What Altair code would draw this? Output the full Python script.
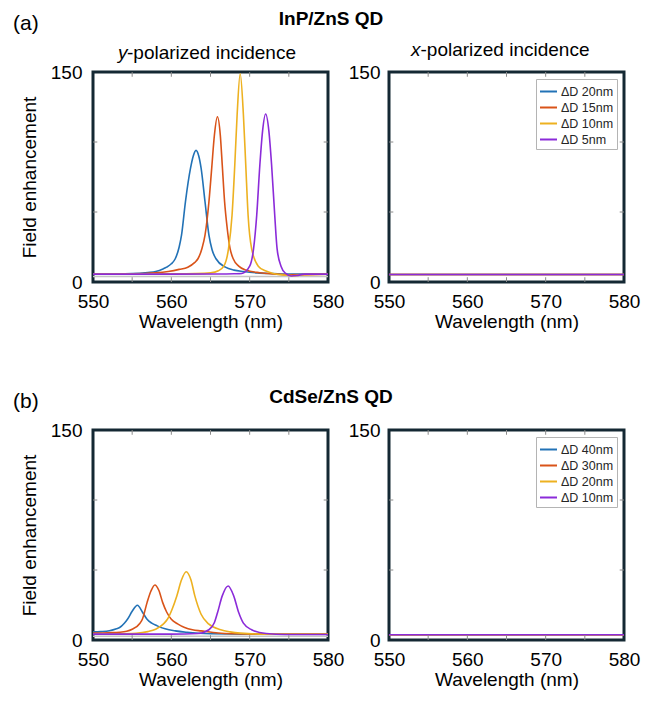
import altair as alt
import pandas as pd

# ---------------- data ----------------
WL_LABELS = [550, 560, 570, 580]
Y_LABELS = [0, 150]
MINOR_X = [555, 560, 565, 570, 575]
MINOR_Y = [50, 100]

LABELS_A = ["ΔD 20nm", "ΔD 15nm", "ΔD 10nm", "ΔD 5nm"]
LABELS_B = ["ΔD 40nm", "ΔD 30nm", "ΔD 20nm", "ΔD 10nm"]
COLORS = ["#2272b6", "#d95319", "#edb120", "#8b2bd9"]

a20_wl = [550, 555, 557, 558, 559, 559.4, 560, 560.5, 561, 561.3, 561.8, 562.45, 562.8, 563.15, 563.5, 563.8, 564.3, 564.8, 565.2, 565.7, 566.9, 568, 569.2, 571, 573, 575, 580]
a20_fe = [5.6, 6.0, 6.8, 7.5, 9.5, 10.6, 13.0, 16.6, 25.0, 33.4, 57.3, 81.3, 90.0, 94.0, 90.0, 81.3, 57.3, 33.4, 23.0, 16.6, 10.6, 8.5, 7.5, 6.5, 6.0, 5.6, 5.6]
a15_wl = [550, 555, 558, 559.6, 561, 562.1, 563, 563.4, 563.9, 564.3, 564.8, 565.15, 565.5, 565.88, 566.25, 566.5, 566.8, 567.1, 567.5, 567.9, 568.6, 569.5, 571.3, 573, 575, 580]
a15_fe = [5.6, 5.8, 6.5, 7.5, 9.0, 10.6, 14.0, 16.6, 23.8, 33.4, 57.3, 81.0, 105.0, 118.0, 105.0, 83.6, 57.3, 40.0, 23.8, 16.6, 11.3, 8.5, 6.6, 5.8, 5.2, 5.6]
a10_wl = [550, 560, 563, 565, 566, 566.7, 567.3, 567.75, 568.1, 568.4, 568.79, 569.2, 569.5, 569.8, 570.25, 571.1, 572, 573, 574.5, 575.5, 577, 580]
a10_fe = [5.6, 5.8, 6.0, 6.5, 8.0, 11.3, 23.8, 47.7, 83.6, 119.5, 148.7, 119.5, 83.6, 47.7, 23.8, 11.3, 8.0, 6.1, 5.0, 4.5, 5.3, 5.6]
a5_wl = [550, 560, 566, 568, 569, 570, 570.5, 570.9, 571.3, 571.65, 572.04, 572.45, 572.8, 573.2, 573.5, 574, 574.6, 575.3, 576, 577, 580]
a5_fe = [5.6, 5.6, 5.7, 5.9, 6.1, 11.3, 23.8, 47.7, 83.6, 108.0, 120.0, 108.0, 83.6, 47.7, 23.8, 11.3, 6.1, 4.3, 4.6, 5.6, 5.6]

ax_wl = [550, 560, 570, 580]
ax20_fe = [5.4, 5.4, 5.4, 5.4]
ax15_fe = [5.4, 5.4, 5.4, 5.4]
ax10_fe = [5.4, 5.4, 5.4, 5.4]
ax5_fe = [5.4, 5.4, 5.4, 5.4]

b40_wl = [550, 551, 552.1, 553, 553.4, 554, 554.4, 555, 555.67, 556.3, 556.9, 557.5, 558.2, 559.2, 560.5, 562, 565, 570, 580]
b40_fe = [5.8, 6.0, 6.6, 8.0, 8.9, 12.0, 14.8, 20.5, 24.8, 20.0, 14.8, 12.0, 10.1, 8.0, 6.5, 5.5, 4.5, 4.2, 4.2]
b30_wl = [550, 552, 553.4, 554.3, 555, 556, 556.3, 556.9, 557.4, 557.9, 558.4, 558.9, 559.4, 560, 560.8, 561.7, 562.7, 563.8, 566, 568, 572, 580]
b30_fe = [5.0, 5.2, 5.5, 6.2, 7.7, 12.0, 14.8, 26.7, 35.0, 39.3, 35.5, 26.7, 20.0, 14.8, 11.5, 8.9, 7.3, 6.5, 5.0, 4.5, 4.2, 4.2]
b20_wl = [550, 553, 555.5, 557, 558, 559, 559.5, 560.1, 560.7, 561.3, 561.9, 562.5, 563, 563.8, 564.8, 566.3, 567.5, 568.8, 572, 580]
b20_fe = [4.3, 4.4, 4.8, 6.0, 7.7, 11.5, 14.8, 22.0, 31.5, 43.0, 48.8, 43.0, 31.5, 18.4, 11.3, 7.3, 5.8, 4.9, 4.2, 4.2]
b10_wl = [550, 560, 563.4, 564.8, 565.5, 565.9, 566.5, 567.25, 567.96, 568.6, 569.2, 570.25, 572.1, 574.6, 580]
b10_fe = [4.2, 4.2, 4.6, 7.3, 12.5, 19.6, 31.5, 38.6, 31.5, 19.6, 12.0, 7.3, 4.6, 3.9, 3.9]

bx_wl = [550, 560, 570, 580]
bx40_fe = [3.8, 3.8, 3.8, 3.8]
bx30_fe = [3.8, 3.8, 3.8, 3.8]
bx20_fe = [3.8, 3.8, 3.8, 3.8]
bx10_fe = [3.8, 3.8, 3.8, 3.8]

# ---------------- styling ----------------
FONT = "Liberation Sans"
FRAME = "#142833"
TICKC = "#8a8a8a"
W, H = 235, 210

xs = alt.Scale(domain=[550, 580], nice=False, zero=False, padding=0)
ys = alt.Scale(domain=[0, 150], nice=False, zero=False, padding=0)


def x_axis():
    return alt.Axis(values=WL_LABELS, title="Wavelength (nm)", grid=False, ticks=False,
                    domain=False, labelFontSize=19, titleFontSize=19, labelPadding=10,
                    titlePadding=1, titleFontWeight="normal", labelColor="black",
                    titleColor="black", format="d", labelFont=FONT, titleFont=FONT,
                    labelFlush=False)


def y_axis(title, label_pad):
    kw = dict(values=Y_LABELS, grid=False, ticks=False, domain=False, labelFontSize=19,
              titleFontSize=19, labelPadding=label_pad, titlePadding=11,
              titleFontWeight="normal", labelColor="black", titleColor="black",
              format="d", labelFont=FONT, titleFont=FONT, labelFlush=False)
    kw["title"] = title if title else None
    return alt.Axis(**kw)


def text_layer(txt, x, y, size=19, weight="normal", style="normal", align="left",
               baseline="middle"):
    return alt.Chart(pd.DataFrame({"t": [txt]})).mark_text(
        align=align, baseline=baseline, fontSize=size, fontWeight=weight,
        fontStyle=style, font=FONT, color="black"
    ).encode(text="t:N", x=alt.value(x), y=alt.value(y))


def header(texts, height):
    return alt.layer(*[text_layer(**t) for t in texts]).properties(
        width=520, height=height,
        view=alt.ViewBackground(stroke="transparent", fill="transparent"))


def panel(series, labels, ytitle, show_legend, texts, gray=None):
    rows = []
    for lab, wl, fe in series:
        for w_, f_ in zip(wl, fe):
            rows.append({"s": lab, "wl": w_, "fe": f_})
    df = pd.DataFrame(rows)
    xa = x_axis()
    ya = y_axis(ytitle, 11 if ytitle else 9)
    if show_legend:
        leg = alt.Legend(title=None, orient="top-right", offset=7, symbolType="stroke",
                         symbolSize=289, symbolStrokeWidth=2, labelFontSize=12.5,
                         labelFont=FONT, labelColor="#262626", padding=3, rowPadding=0,
                         labelOffset=3, strokeColor="#b4b4b4", fillColor="white",
                         cornerRadius=0)
    else:
        leg = None
    color = alt.Color("s:N", scale=alt.Scale(domain=labels, range=COLORS), legend=leg,
                      sort=labels)
    lines = alt.Chart(df).mark_line(strokeWidth=1.6, interpolate="monotone", clip=True).encode(
        x=alt.X("wl:Q", scale=xs, axis=xa),
        y=alt.Y("fe:Q", scale=ys, axis=ya),
        color=color,
    )
    layers = []
    if gray is not None:
        gdf = pd.DataFrame({"wl": [550], "wl2": [580], "fe": [gray]})
        layers.append(alt.Chart(gdf).mark_rule(color="#c4c4c4", strokeWidth=1.5).encode(
            x=alt.X("wl:Q", scale=xs, axis=xa), x2="wl2:Q",
            y=alt.Y("fe:Q", scale=ys, axis=ya)))
    layers.append(lines)
    mx = pd.DataFrame({"wl": MINOR_X, "b0": [0] * len(MINOR_X), "b1": [3.4] * len(MINOR_X),
                       "t0": [150] * len(MINOR_X), "t1": [146.6] * len(MINOR_X)})
    my = pd.DataFrame({"fe": MINOR_Y, "l0": [550] * len(MINOR_Y), "l1": [550.55] * len(MINOR_Y),
                       "r0": [580] * len(MINOR_Y), "r1": [579.45] * len(MINOR_Y)})
    layers.append(alt.Chart(mx).mark_rule(color=TICKC, strokeWidth=1).encode(
        x=alt.X("wl:Q", scale=xs, axis=xa), y=alt.Y("b0:Q", scale=ys, axis=ya), y2="b1:Q"))
    layers.append(alt.Chart(mx).mark_rule(color=TICKC, strokeWidth=1).encode(
        x=alt.X("wl:Q", scale=xs, axis=xa), y=alt.Y("t0:Q", scale=ys, axis=ya), y2="t1:Q"))
    layers.append(alt.Chart(my).mark_rule(color=TICKC, strokeWidth=1).encode(
        x=alt.X("l0:Q", scale=xs, axis=xa), x2="l1:Q", y=alt.Y("fe:Q", scale=ys, axis=ya)))
    layers.append(alt.Chart(my).mark_rule(color=TICKC, strokeWidth=1).encode(
        x=alt.X("r0:Q", scale=xs, axis=xa), x2="r1:Q", y=alt.Y("fe:Q", scale=ys, axis=ya)))
    for t in texts:
        layers.append(text_layer(**t))
    return alt.layer(*layers).properties(width=W, height=H)


head_a = header([
    dict(txt="(a)", x=-80, y=2, size=21),
    dict(txt="InP/ZnS QD", x=238, y=-3.5, weight="bold", align="center"),
], 15.5)
head_b = header([
    dict(txt="(b)", x=-80, y=67, size=21),
    dict(txt="CdSe/ZnS QD", x=238, y=62, weight="bold", align="center"),
], 82.5)

tl = panel(
    [(LABELS_A[0], a20_wl, a20_fe), (LABELS_A[1], a15_wl, a15_fe),
     (LABELS_A[2], a10_wl, a10_fe), (LABELS_A[3], a5_wl, a5_fe)],
    LABELS_A, "Field enhancement", False,
    [dict(txt="y", x=25, y=-13, style="italic", baseline="alphabetic"),
     dict(txt="-polarized incidence", x=34, y=-13, baseline="alphabetic")],
    gray=4.0)
tr = panel(
    [(LABELS_A[0], ax_wl, ax20_fe), (LABELS_A[1], ax_wl, ax15_fe),
     (LABELS_A[2], ax_wl, ax10_fe), (LABELS_A[3], ax_wl, ax5_fe)],
    LABELS_A, None, True,
    [dict(txt="x", x=22, y=-16, style="italic", baseline="alphabetic"),
     dict(txt="-polarized incidence", x=31.5, y=-16, baseline="alphabetic")])
bl = panel(
    [(LABELS_B[0], b40_wl, b40_fe), (LABELS_B[1], b30_wl, b30_fe),
     (LABELS_B[2], b20_wl, b20_fe), (LABELS_B[3], b10_wl, b10_fe)],
    LABELS_B, "Field enhancement", False, [], gray=2.6)
br = panel(
    [(LABELS_B[0], bx_wl, bx40_fe), (LABELS_B[1], bx_wl, bx30_fe),
     (LABELS_B[2], bx_wl, bx20_fe), (LABELS_B[3], bx_wl, bx10_fe)],
    LABELS_B, None, True, [])

row_a = alt.hconcat(tl, tr, spacing=0).resolve_scale(color="independent")
row_b = alt.hconcat(bl, br, spacing=0).resolve_scale(color="independent")

chart = (
    alt.vconcat(head_a, row_a, head_b, row_b, spacing=0)
    .resolve_scale(color="independent")
    .properties(padding={"left": 3, "top": 0, "right": 0, "bottom": 0}, background="white")
    .configure(font=FONT)
    .configure_view(stroke=FRAME, strokeWidth=3, fill="white")
)

chart.save("out.html", embed_options={"renderer": "svg", "actions": False})
